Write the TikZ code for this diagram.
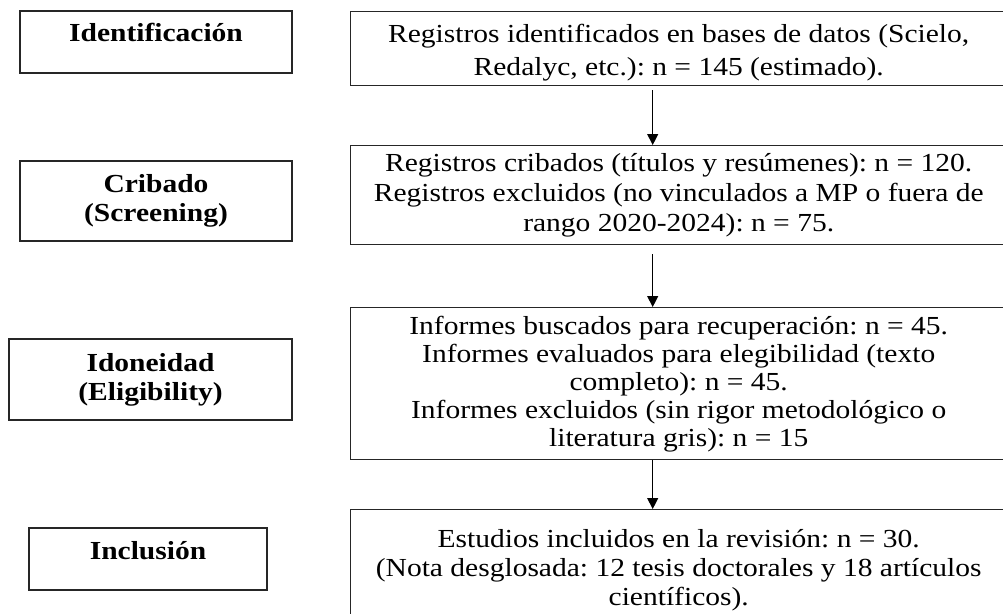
\documentclass[tikz,border=0pt]{standalone}
\usepackage{fontspec}
\setmainfont[FakeStretch=1.135]{Liberation Serif}
\usetikzlibrary{arrows.meta}
\newcommand{\rtext}[1]{\parbox{640pt}{\centering #1}\hspace*{24pt}}
\frenchspacing
\begin{document}
\begin{tikzpicture}[x=1pt,y=-1pt,
  lbox/.style={draw=black!85, line width=1.6pt, font=\fontsize{26}{29}\selectfont\bfseries, align=center, inner sep=0pt},
  rbox/.style={draw=black!85, line width=1.4pt, font=\fontsize{26}{30}\selectfont, inner sep=0pt, anchor=north west, minimum width=680pt},
  arr/.style={-{Triangle[length=11pt,width=11pt]}, line width=1.2pt, black}]
\useasboundingbox (0,0) rectangle (1003,613);
\clip (0,0) rectangle (1003,613);
% left column
\node[lbox, minimum width=272pt, minimum height=62pt, text height=20pt, text depth=22pt] (id) at (156,42) {Identificación};
\node[lbox, minimum width=272pt, minimum height=80pt] (cr) at (156,201) {Cribado\\(Screening)};
\node[lbox, minimum width=283pt, minimum height=81pt] (el) at (150.5,379.5) {Idoneidad\\(Eligibility)};
\node[lbox, minimum width=238pt, minimum height=62pt, text height=20pt, text depth=20pt] (in) at (148,559) {Inclusión};
% right column
\node[rbox, minimum height=74pt] (r1) at (350,11) {\raisebox{-4pt}[\height][\depth]{\rtext{\baselineskip=33pt Registros identificados en bases de datos (Scielo,\\ Redalyc, etc.): n = 145 (estimado).}}};
\node[rbox, minimum height=99pt] (r2) at (350,145) {\rtext{Registros cribados (títulos y resúmenes): n = 120.\\ Registros excluidos (no vinculados a MP o fuera de\\ rango 2020-2024): n = 75.}};
\node[rbox, minimum height=152pt] (r3) at (350,307) {\rtext{\baselineskip=28pt Informes buscados para recuperación: n = 45.\\ Informes evaluados para elegibilidad (texto\\ completo): n = 45.\\ Informes excluidos (sin rigor metodológico o\\ literatura gris): n = 15}};
\node[rbox, minimum height=122pt] (r4) at (350,509) {\rtext{\baselineskip=29pt Estudios incluidos en la revisión: n = 30.\\ (Nota desglosada: 12 tesis doctorales y 18 artículos\\ científicos).}};
% arrows
\draw[arr, shorten <=4pt] ([xshift=-38pt]r1.south) -- ([xshift=-38pt]r2.north);
\draw[arr, shorten <=9pt] ([xshift=-38pt]r2.south) -- ([xshift=-38pt]r3.north);
\draw[arr] ([xshift=-38pt]r3.south) -- ([xshift=-38pt]r4.north);
\end{tikzpicture}
\end{document}
